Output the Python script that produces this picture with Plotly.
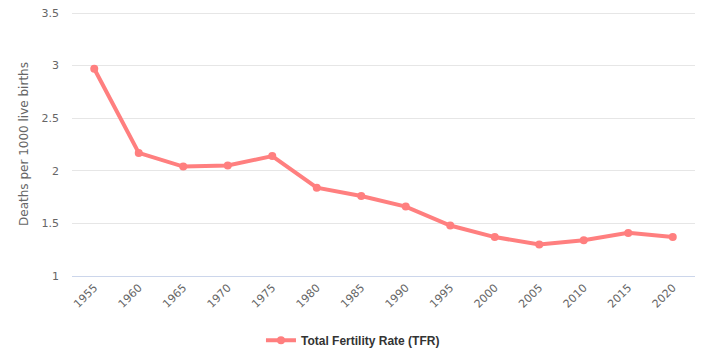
import plotly.graph_objects as go

years = ["1955", "1960", "1965", "1970", "1975", "1980", "1985", "1990",
         "1995", "2000", "2005", "2010", "2015", "2020"]
tfr = [2.97, 2.17, 2.04, 2.05, 2.14, 1.84, 1.76, 1.66, 1.48, 1.37, 1.30, 1.34, 1.41, 1.37]
y_ticks = [1, 1.5, 2, 2.5, 3, 3.5]
y_tick_labels = ["1", "1.5", "2", "2.5", "3", "3.5"]
series_name = "Total Fertility Rate (TFR)"

fig = go.Figure()
fig.add_trace(go.Scatter(
    x=years, y=tfr, mode="lines+markers", name="<b>" + series_name + "</b>",
    line=dict(color="#ff7f7f", width=4),
    marker=dict(color="#ff7f7f", size=8),
))

font_family = "DejaVu Sans, Verdana, sans-serif"
fig.update_layout(
    width=714, height=362,
    margin=dict(l=64, r=27, t=4, b=94),
    plot_bgcolor="white", paper_bgcolor="white",
    font=dict(family=font_family, size=11, color="#666666"),
    xaxis=dict(
        type="category", tickangle=-45, showgrid=False,
        showline=True, linecolor="#ccd6eb", linewidth=1,
        ticks="", tickfont=dict(size=11, color="#666666"),
        range=[-0.5, len(years) - 0.5], automargin=False,
    ),
    yaxis=dict(
        range=[1, 3.51], tickvals=y_ticks, ticktext=y_tick_labels,
        showgrid=True, gridcolor="#e6e6e6", zeroline=False,
        showline=False, ticks="", tickfont=dict(size=11, color="#666666"),
        ticklabelstandoff=12, ticklabeloverflow="allow", automargin=False,
        title=dict(text="Deaths per 1000 live births", font=dict(size=12, color="#666666"), standoff=10),
    ),
    showlegend=True,
    legend=dict(
        orientation="h", x=0.451, xanchor="center", y=-0.243, yanchor="middle",
        font=dict(size=12, color="#333333", family="Liberation Sans, Arial, sans-serif"),
        itemwidth=30,
    ),
)

fig.write_html("out.html")
